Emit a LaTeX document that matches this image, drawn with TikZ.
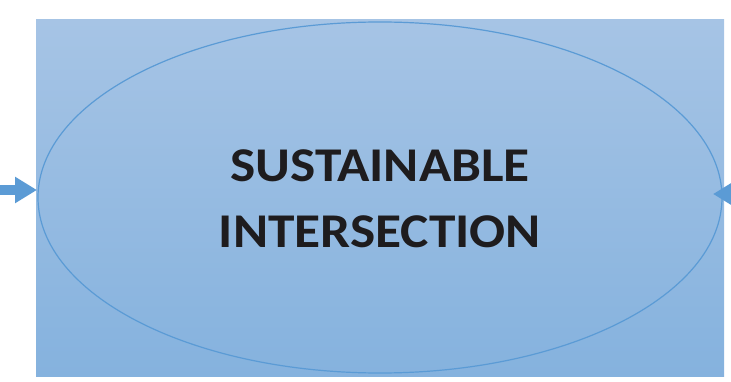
\documentclass[tikz,border=0pt]{standalone}
\usepackage{fontspec}
\setmainfont{Carlito}
\usetikzlibrary{arrows.meta,shapes.geometric}
\definecolor{bgtop}{RGB}{166,196,229}
\definecolor{bgbot}{RGB}{133,178,222}
\definecolor{accent}{RGB}{91,155,213}
\definecolor{txt}{RGB}{30,28,30}
\tikzset{
  bgbox/.style={rectangle, inner sep=0pt, minimum width=688pt, minimum height=356pt, top color=bgtop, bottom color=bgbot, draw=none},
  oval/.style={ellipse, inner sep=0pt, minimum width=684pt, minimum height=351pt, draw=accent, line width=1.2pt},
  flowarrow/.style={draw=accent, line width=10pt, -{Triangle[length=22pt,width=25pt]}},
  title/.style={font=\bfseries\fontsize{48.5}{66}\selectfont, text=txt, align=center}
}
\begin{document}
\begin{tikzpicture}[x=1pt,y=-1pt]
\useasboundingbox (0,0) rectangle (731,382);
\clip (0,0) rectangle (731,382);
\node[bgbox] (bg) at (380,198) {};
\node[oval] (ell) at (380,197.5) {};
\node[title] (t) at (380,198.5) {\scalebox{1.1}[1]{SUSTAINABLE}\\\scalebox{1.1}[1]{INTERSECTION}};
\coordinate (lstart) at (-2,190);
\coordinate (ltip) at (37,190);
\coordinate (rstart) at (760,194);
\coordinate (rtip) at (713,194);
\draw[flowarrow] (lstart) -- (ltip);
\draw[flowarrow] (rstart) -- (rtip);
\end{tikzpicture}
\end{document}
